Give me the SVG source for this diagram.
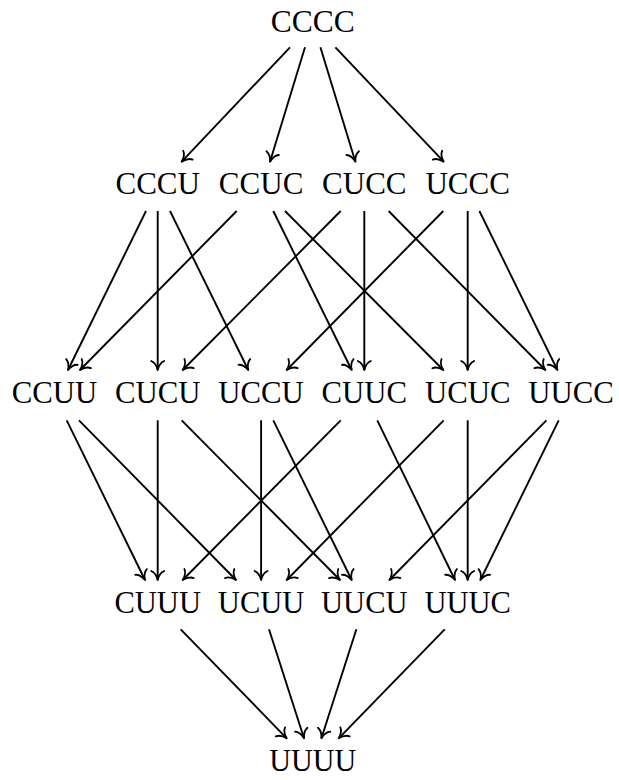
<svg xmlns="http://www.w3.org/2000/svg" width="619" height="780" viewBox="0 0 619 780">
<style>
text{font-family:"Liberation Serif","Times New Roman",serif;font-size:30.5px;fill:#000;text-anchor:middle}
.e line{stroke:#000;stroke-width:1.9;fill:none;marker-end:url(#a)}
</style>
<defs>
<marker id="a" markerUnits="userSpaceOnUse" markerWidth="18" markerHeight="18" viewBox="-13 -9 15 18" refX="0" refY="0" orient="auto">
<path d="M -9,-6.5 C -7.5,-2.7 -3.2,-0.8 0,0 C -3.2,0.8 -7.5,2.7 -9,6.5" fill="none" stroke="#000" stroke-width="1.8" stroke-linecap="round" stroke-linejoin="round"/>
</marker>
</defs>
<rect width="619" height="780" fill="#fff"/>
<g id="CCCC"><text x="312.7" y="32" textLength="84" lengthAdjust="spacingAndGlyphs">CCCC</text></g>
<g id="CCCU"><text x="157.7" y="194.3" textLength="84.5" lengthAdjust="spacingAndGlyphs">CCCU</text></g>
<g id="CCUC"><text x="261.1" y="194.3" textLength="84.5" lengthAdjust="spacingAndGlyphs">CCUC</text></g>
<g id="CUCC"><text x="364.3" y="194.3" textLength="84.5" lengthAdjust="spacingAndGlyphs">CUCC</text></g>
<g id="UCCC"><text x="467.7" y="194.3" textLength="84.5" lengthAdjust="spacingAndGlyphs">UCCC</text></g>
<g id="CCUU"><text x="54.4" y="403" textLength="85.5" lengthAdjust="spacingAndGlyphs">CCUU</text></g>
<g id="CUCU"><text x="157.7" y="403" textLength="85.5" lengthAdjust="spacingAndGlyphs">CUCU</text></g>
<g id="UCCU"><text x="261.1" y="403" textLength="85.5" lengthAdjust="spacingAndGlyphs">UCCU</text></g>
<g id="CUUC"><text x="364.3" y="403" textLength="85.5" lengthAdjust="spacingAndGlyphs">CUUC</text></g>
<g id="UCUC"><text x="467.7" y="403" textLength="85.5" lengthAdjust="spacingAndGlyphs">UCUC</text></g>
<g id="UUCC"><text x="571" y="403" textLength="85.5" lengthAdjust="spacingAndGlyphs">UUCC</text></g>
<g id="CUUU"><text x="157.7" y="612.5" textLength="86.5" lengthAdjust="spacingAndGlyphs">CUUU</text></g>
<g id="UCUU"><text x="261.1" y="612.5" textLength="86.5" lengthAdjust="spacingAndGlyphs">UCUU</text></g>
<g id="UUCU"><text x="364.3" y="612.5" textLength="86.5" lengthAdjust="spacingAndGlyphs">UUCU</text></g>
<g id="UUUC"><text x="467.7" y="612.5" textLength="86.5" lengthAdjust="spacingAndGlyphs">UUUC</text></g>
<g id="UUUU"><text x="312.7" y="770.5" textLength="87" lengthAdjust="spacingAndGlyphs">UUUU</text></g>
<g id="edges" class="e">
<line x1="290" y1="47.3" x2="181.7" y2="161.7"/>
<line x1="305" y1="47.3" x2="270" y2="161.7"/>
<line x1="320.4" y1="47.3" x2="355.4" y2="161.7"/>
<line x1="335.4" y1="47.3" x2="443.7" y2="161.7"/>

<line x1="146" y1="211" x2="68" y2="370"/>
<line x1="157.7" y1="211" x2="157.7" y2="370"/>
<line x1="170" y1="211" x2="248.3" y2="370"/>
<line x1="236.7" y1="211" x2="80" y2="370"/>
<line x1="273.3" y1="211" x2="351.7" y2="370"/>
<line x1="285" y1="211" x2="443.3" y2="370"/>
<line x1="340.7" y1="211" x2="182.7" y2="370"/>
<line x1="364.3" y1="211" x2="364.3" y2="370"/>
<line x1="388.6" y1="211" x2="545.4" y2="370"/>
<line x1="443.3" y1="211" x2="286.7" y2="370"/>
<line x1="467.7" y1="211" x2="467.7" y2="370"/>
<line x1="479.4" y1="211" x2="557.4" y2="370"/>

<line x1="66.7" y1="420.3" x2="145" y2="580"/>
<line x1="79" y1="420.3" x2="236" y2="580"/>
<line x1="157.7" y1="420.3" x2="157.7" y2="580"/>
<line x1="181.7" y1="420.3" x2="340" y2="580"/>
<line x1="261.1" y1="420.3" x2="261.1" y2="580"/>
<line x1="273.3" y1="420.3" x2="351.7" y2="580"/>
<line x1="340.7" y1="420.3" x2="182.7" y2="580"/>
<line x1="377.3" y1="420.3" x2="455" y2="580"/>
<line x1="443.7" y1="420.3" x2="286.7" y2="580"/>
<line x1="467.7" y1="420.3" x2="467.7" y2="580"/>
<line x1="546.4" y1="420.3" x2="389.4" y2="580"/>
<line x1="558.7" y1="420.3" x2="480.4" y2="580"/>

<line x1="180.7" y1="629.3" x2="286.7" y2="738.3"/>
<line x1="269" y1="629.3" x2="304" y2="738.3"/>
<line x1="356.4" y1="629.3" x2="321.4" y2="738.3"/>
<line x1="444.7" y1="629.3" x2="338.7" y2="738.3"/>
</g>
</svg>
